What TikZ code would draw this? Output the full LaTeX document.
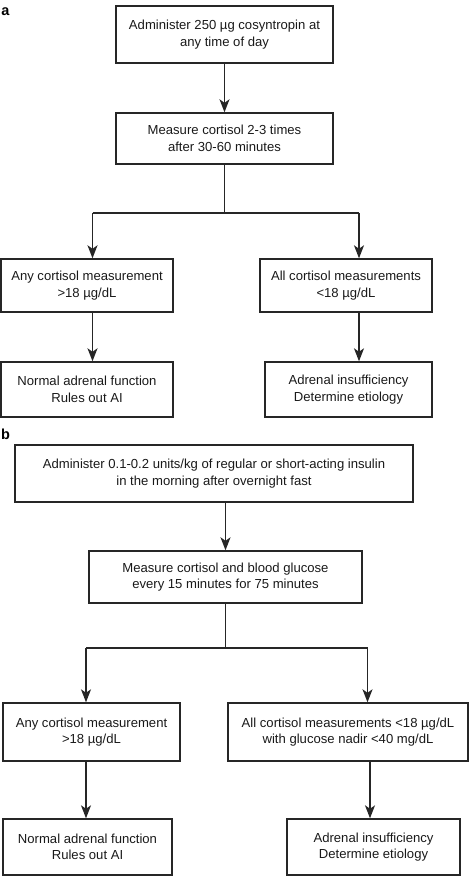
\documentclass[tikz,border=0pt]{standalone}
\usepackage{fontspec}
\setmainfont{Liberation Sans}
\usetikzlibrary{arrows.meta}
\begin{document}
\begin{tikzpicture}[x=1pt,y=-1pt,
  box/.style={draw=black!85, line width=1.4pt, inner sep=0pt, align=center,
    font=\fontsize{13.1}{16.5}\selectfont, text=black!90},
  arr/.style={draw=black!85, line width=1.4pt, -{Stealth[length=13pt,width=10pt,inset=3.5pt]}},
  ln/.style={draw=black!85, line width=1.4pt},
  lab/.style={font=\fontsize{14.5}{14.5}\selectfont\bfseries, inner sep=0pt}]
\useasboundingbox (0,0) rectangle (470,877);
% panel labels
\node[lab] (la) at (5.5,12) {a};
\node[lab] (lb) at (5.5,434) {b};
% panel a
\node[box, minimum width=217pt, minimum height=57pt] (A1) at (224.5,34.5) {Administer 250 µg cosyntropin at\\any time of day};
\node[box, minimum width=217pt, minimum height=51pt] (A2) at (224.5,138.5) {Measure cortisol 2-3 times\\after 30-60 minutes};
\node[box, minimum width=172pt, minimum height=53pt] (A3) at (87,285.5) {Any cortisol measurement\\>18 µg/dL};
\node[box, minimum width=172pt, minimum height=53pt] (A4) at (346,285.5) {All cortisol measurements\\<18 µg/dL};
\node[box, minimum width=172pt, minimum height=55pt] (A5) at (87,389.5) {Normal adrenal function\\Rules out AI};
\node[box, minimum width=167pt, minimum height=55pt] (A6) at (348.5,389.5) {Adrenal insufficiency\\Determine etiology};
\coordinate (ja) at (224.5,213);
\coordinate (jaL) at (92.5,213);
\coordinate (jaR) at (359,213);
\draw[arr] (A1) -- (A2);
\draw[ln] (A2) -- (ja);
\draw[ln] (jaL) -- (jaR);
\draw[arr] (jaL) -- (jaL |- A3.north);
\draw[arr] (jaR) -- (jaR |- A4.north);
\draw[arr] (A3.south -| jaL) -- (A5.north -| jaL);
\draw[arr] (A4.south -| jaR) -- (A6.north -| jaR);
% panel b
\node[box, minimum width=398pt, minimum height=57pt] (B1) at (214,473.5) {Administer 0.1-0.2 units/kg of regular or short-acting insulin\\in the morning after overnight fast};
\node[box, minimum width=273pt, minimum height=52pt] (B2) at (225.5,577) {Measure cortisol and blood glucose\\every 15 minutes for 75 minutes};
\node[box, minimum width=177pt, minimum height=58pt] (B3) at (91.5,732) {Any cortisol measurement\\>18 µg/dL};
\node[box, minimum width=240pt, minimum height=58pt] (B4) at (348,732) {All cortisol measurements <18 µg/dL\\with glucose nadir <40 mg/dL};
\node[box, minimum width=169pt, minimum height=56pt] (B5) at (87.5,847) {Normal adrenal function\\Rules out AI};
\node[box, minimum width=173pt, minimum height=56pt] (B6) at (373.5,847) {Adrenal insufficiency\\Determine etiology};
\coordinate (jb) at (225.5,648);
\coordinate (jbL) at (86,648);
\coordinate (jbR) at (367.5,648);
\draw[arr] (B1.south -| B2) -- (B2);
\draw[ln] (B2) -- (jb);
\draw[ln] (jbL) -- (jbR);
\draw[arr] (jbL) -- (jbL |- B3.north);
\draw[arr] (jbR) -- (jbR |- B4.north);
\draw[arr] (B3.south -| jbL) -- (B5.north -| jbL);
\coordinate (bR2) at (370,761);
\draw[arr] (B4.south -| bR2) -- (B6.north -| bR2);
\end{tikzpicture}
\end{document}
